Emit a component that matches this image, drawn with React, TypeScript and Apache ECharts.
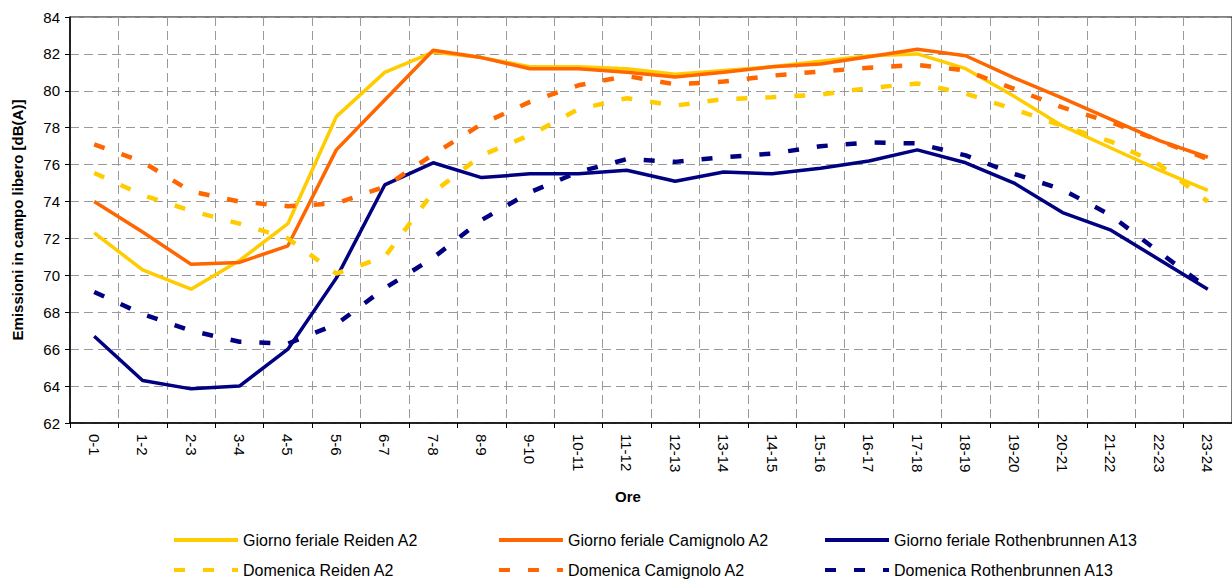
import React, { useEffect, useRef } from "react";
import * as echarts from "echarts";

const categories = ["0-1","1-2","2-3","3-4","4-5","5-6","6-7","7-8","8-9","9-10","10-11","11-12","12-13","13-14","14-15","15-16","16-17","17-18","18-19","19-20","20-21","21-22","22-23","23-24"];

const ferialeReiden = [72.3, 70.3, 69.25, 70.8, 72.8, 78.6, 81.0, 82.1, 81.8, 81.3, 81.3, 81.2, 80.9, 81.1, 81.3, 81.6, 81.9, 82.0, 81.2, 79.7, 78.1, 76.9, 75.7, 74.6];
const ferialeCamignolo = [74.0, 72.35, 70.6, 70.7, 71.6, 76.8, 79.5, 82.2, 81.8, 81.2, 81.2, 81.0, 80.75, 81.0, 81.3, 81.45, 81.85, 82.25, 81.9, 80.7, 79.6, 78.45, 77.3, 76.4];
const ferialeRothenbrunnen = [66.7, 64.3, 63.85, 64.0, 66.0, 69.85, 74.9, 76.1, 75.3, 75.5, 75.5, 75.7, 75.1, 75.6, 75.5, 75.8, 76.2, 76.8, 76.1, 75.0, 73.4, 72.45, 70.85, 69.25];
const domenicaReiden = [75.55, 74.35, 73.5, 72.8, 72.0, 70.1, 71.0, 74.5, 76.5, 77.6, 79.0, 79.6, 79.2, 79.55, 79.65, 79.8, 80.15, 80.4, 79.85, 79.0, 78.1, 77.25, 76.0, 74.0];
const domenicaCamignolo = [77.1, 76.15, 74.55, 74.0, 73.75, 73.9, 74.8, 76.55, 78.2, 79.4, 80.3, 80.8, 80.35, 80.5, 80.82, 81.05, 81.25, 81.4, 81.1, 80.1, 79.1, 78.3, 77.3, 76.3];
const domenicaRothenbrunnen = [69.1, 67.9, 67.0, 66.4, 66.3, 67.35, 69.3, 70.95, 73.0, 74.5, 75.6, 76.3, 76.15, 76.4, 76.6, 77.0, 77.2, 77.15, 76.5, 75.5, 74.65, 73.25, 71.25, 69.3];

const seriesNames = [
  "Giorno feriale Reiden A2",
  "Giorno feriale Camignolo A2",
  "Giorno feriale Rothenbrunnen A13",
  "Domenica Reiden A2",
  "Domenica Camignolo A2",
  "Domenica Rothenbrunnen A13",
];
const seriesData = [ferialeReiden, ferialeCamignolo, ferialeRothenbrunnen, domenicaReiden, domenicaCamignolo, domenicaRothenbrunnen];
const seriesColors = ["#FFCC00", "#FF6600", "#000080", "#FFCC00", "#FF6600", "#000080"];
const seriesDashed = [false, false, false, true, true, true];

const yMin = 62;
const yMax = 84;
const yStep = 2;

const FONT = "'Liberation Sans', Arial, sans-serif";

export default function App() {
  const ref = useRef<HTMLDivElement>(null);
  useEffect(() => {
    document.body.style.margin = "0";
    const chart = echarts.init(ref.current!, null, { renderer: "svg" });
    const legendLeft = [172, 497, 823];
    const legendTop = [532, 562];
    const legends = seriesNames.map((n, i) => ({
      data: [n],
      left: legendLeft[i % 3],
      top: legendTop[Math.floor(i / 3)],
      itemWidth: 64,
      itemHeight: 14,
      padding: 0,
      itemStyle: { opacity: 0 },
      lineStyle: { width: 4 },
      textStyle: { fontSize: 16, color: "#000", fontFamily: FONT },
    }));
    chart.setOption({
      animation: false,
      backgroundColor: "#fff",
      textStyle: { fontFamily: FONT },
      grid: {
        left: 70,
        top: 17,
        right: -3,
        bottom: 157,
        show: true,
        borderColor: "#000",
        borderWidth: 1,
        backgroundColor: "transparent",
      },
      legend: legends,
      xAxis: {
        type: "category",
        data: categories,
        boundaryGap: true,
        axisLine: { lineStyle: { color: "#000", width: 1.5 } },
        axisTick: { show: true, length: 5, lineStyle: { color: "#000" } },
        axisLabel: { rotate: -90, fontSize: 15, color: "#000", margin: 11, fontFamily: FONT, interval: 0 },
        splitLine: { show: true, interval: 0, lineStyle: { color: "#999", type: [9, 5], width: 1 } },
      },
      yAxis: {
        type: "value",
        min: yMin,
        max: yMax,
        interval: yStep,
        name: "Emissioni in campo libero [dB(A)]",
        nameLocation: "middle",
        nameGap: 45,
        nameTextStyle: { fontSize: 15, fontWeight: "bold", color: "#000", fontFamily: FONT },
        axisLine: { show: true, lineStyle: { color: "#000", width: 1.5 } },
        axisTick: { show: true, length: 5, lineStyle: { color: "#000" } },
        axisLabel: { fontSize: 15, color: "#000", margin: 10, fontFamily: FONT },
        splitLine: { show: true, lineStyle: { color: "#999", type: [9, 5], width: 1 } },
      },
      graphic: [
        {
          type: "text",
          x: 628,
          y: 496,
          style: {
            text: "Ore",
            fontSize: 15,
            fontWeight: "bold",
            fill: "#000",
            fontFamily: FONT,
            align: "center",
            verticalAlign: "middle",
          },
        },
      ],
      series: seriesNames.map((n, i) => ({
        name: n,
        type: "line",
        data: seriesData[i],
        symbol: "none",
        showSymbol: false,
        color: seriesColors[i],
        lineStyle: {
          color: seriesColors[i],
          width: seriesDashed[i] ? 4.5 : 3.5,
          type: seriesDashed[i] ? [11, 18] : "solid",
        },
        itemStyle: { color: seriesColors[i] },
        z: 2 + i,
      })),
    });
    return () => chart.dispose();
  }, []);
  return <div ref={ref} style={{ width: 1232, height: 580 }} />;
}
